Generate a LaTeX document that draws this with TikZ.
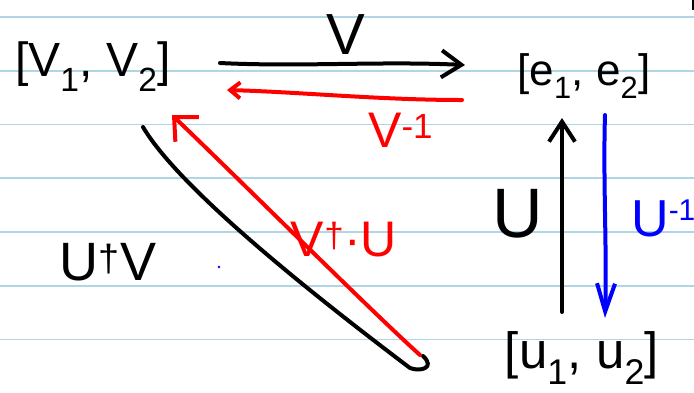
\documentclass[tikz,border=0pt]{standalone}
\usepackage{fontspec}
\setmainfont{Liberation Sans}
\usetikzlibrary{arrows.meta}
\definecolor{ruled}{RGB}{176,214,228}
\definecolor{inkred}{RGB}{255,0,0}
\definecolor{inkblue}{RGB}{0,0,255}
\begin{document}
\begin{tikzpicture}[x=1pt,y=-1pt,
  hand/.style={inner sep=0pt, font=\fontsize{#1}{#1}\selectfont},
  ink/.style={line width=4pt, line cap=round, line join=round},
  barb/.style 2 args={-{Straight Barb[length=#1,width=#2,line width=4pt]}},
  rule/.style={ruled, line width=1.6pt}
]
\clip (0,0) rectangle (694,392);
\fill[white] (0,0) rectangle (694,392);
\foreach \y in {16.7,70.7,124.3,178,231.7,285.7,339.3}
  \draw[rule] (0,\y) -- (694,\y);
\draw[line width=2pt] (693,0) -- (693,10);

% basis nodes
\node[hand=48] (V12) at (93,67) {[V\textsubscript{1}, V\textsubscript{2}]};
\node[hand=44] (E12) at (584,76) {[e\textsubscript{1}, e\textsubscript{2}]};
\node[hand=51] (U12) at (582,358) {[u\textsubscript{1}, u\textsubscript{2}]};

% connector end points
\coordinate (vs) at (220,63);
\coordinate (ve) at (465,65);
\coordinate (ris) at (462,100);
\coordinate (rie) at (227,90);
\coordinate (ds) at (143,127);
\coordinate (de) at (410,368);
\coordinate (rds) at (420,355);
\coordinate (rde) at (172,115);
\coordinate (us) at (562,312);
\coordinate (ue) at (562,118);
\coordinate (bs) at (605,115);
\coordinate (be) at (605,318);

% arrows
\draw[ink, barb={20pt}{27pt}] (vs) .. controls (300,67) and (380,61) .. (ve);
\draw[ink, inkred, barb={10pt}{16pt}] (ris) .. controls (380,100) and (300,92) .. (rie);
\draw[ink] (ds) .. controls (180,190) and (320,300) .. (de)
  .. controls (420,372) and (436,368) .. (423,356);
\draw[ink, inkred, barb={18pt}{34pt}] (rds) .. controls (370,310) and (240,180) .. (rde);
\draw[ink, barb={20pt}{26pt}] (us) -- (ue);
\draw[ink, inkblue, barb={28pt}{18pt}] (bs) .. controls (603,180) and (607,250) .. (be);

% labels
\node[hand=58] (lV) at (346,35) {V};
\node[hand=50, text=inkred, anchor=north west] (lVi) at (368,113) {V\textsuperscript{-1}};
\node[hand=70] (lU) at (518,214) {U};
\node[hand=52, text=inkblue, anchor=west] (lUi) at (631,218) {U{\fontsize{30}{30}\selectfont\raisebox{16pt}{-1}}};
\node[hand=54] (lUV) at (108,262) {U\textsuperscript{†}V};
\node[hand=50, text=inkred] (lVU) at (344,240) {V\textsuperscript{†}·U};
\fill[inkblue] (219,267) circle (1.3);
\end{tikzpicture}
\end{document}
